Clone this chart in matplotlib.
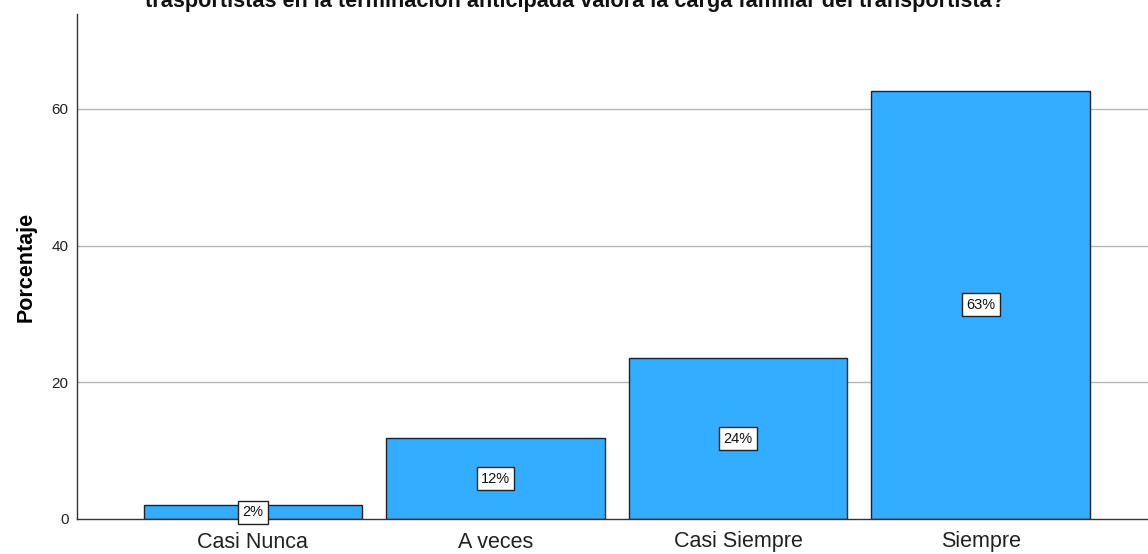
import matplotlib
matplotlib.use("Agg")
import matplotlib.pyplot as plt

categories = ["Casi Nunca", "A veces", "Casi Siempre", "Siempre"]
percentages = [2.0, 11.8, 23.5, 62.7]
bar_labels = ["2%", "12%", "24%", "63%"]
y_ticks = [0, 20, 40, 60]
title_line = "trasportistas en la terminación anticipada valora la carga familiar del transportista?"

plt.rcParams['font.family'] = ['Liberation Sans', 'DejaVu Sans']

W, H = 1148, 554
fig = plt.figure(figsize=(W / 100, H / 100), dpi=100)
ax = fig.add_axes([77 / W, (H - 519) / H, 1 - 77 / W, (519 - 14) / H])

x = list(range(len(categories)))
ax.bar(x, percentages, width=0.9, color="#33adff", edgecolor="#222222", linewidth=1.0, zorder=3)

ax.set_xlim(-0.725, 3.69)
ax.set_ylim(0, 73.9)
ax.set_yticks(y_ticks)
ax.set_yticklabels([str(t) for t in y_ticks], fontsize=11, color="#222222")
ax.set_xticks(x)
ax.set_xticklabels(categories, fontsize=15.5, color="#222222")
ax.tick_params(axis="y", length=0, pad=6)
ax.tick_params(axis="x", length=0, pad=9)

for t in y_ticks[1:]:
    ax.axhline(t, color="#b4b4b4", linewidth=1.0, zorder=1)

for s in ["top", "right"]:
    ax.spines[s].set_visible(False)
for s in ["left", "bottom"]:
    ax.spines[s].set_color("#333333")
    ax.spines[s].set_linewidth(1.0)
    ax.spines[s].set_zorder(4)

ax.set_ylabel("Porcentaje", fontsize=15.5, fontweight="bold", labelpad=11)

for xi, v, lab in zip(x, percentages, bar_labels):
    ax.text(xi, v / 2, lab, ha="center", va="center", fontsize=10.5, color="#111111", zorder=5,
            bbox=dict(boxstyle="square,pad=0.3", facecolor="white", edgecolor="#222222", linewidth=1.0))

fig.text(575 / W, 1 - 7 / H, title_line, ha="center", va="baseline", fontsize=15.6, fontweight="bold", color="#111111")

fig.savefig("out.png", dpi=100, facecolor="white")
